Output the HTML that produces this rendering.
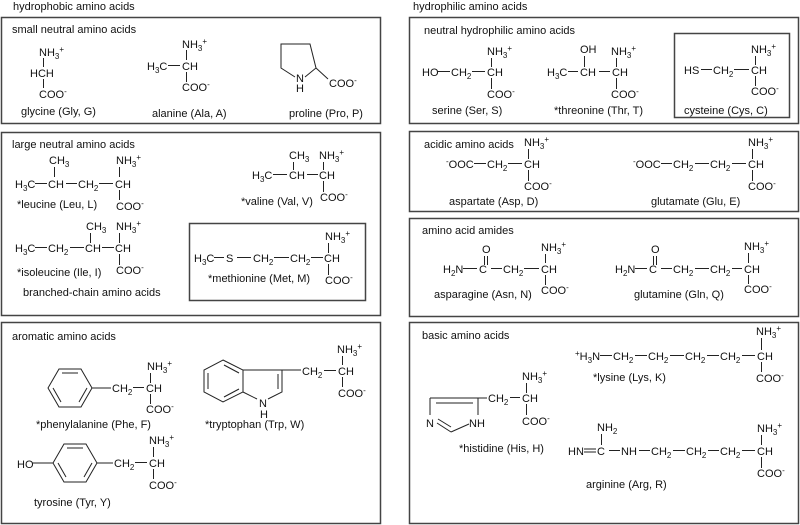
<!DOCTYPE html>
<html><head><meta charset="utf-8"><style>
html,body{margin:0;padding:0;background:#fff}
svg{display:block}
text{font-family:"Liberation Sans",Arial,sans-serif;font-size:11px;fill:#111}
.s{font-size:8px}
line,polyline,polygon{stroke:#222;stroke-width:1;fill:none}
rect{fill:none;stroke:#444;stroke-width:1.5}
</style></head><body>
<svg width="800" height="525" viewBox="0 0 800 525" xmlns="http://www.w3.org/2000/svg">
<text x="13" y="10">hydrophobic amino acids</text>
<text x="413" y="10">hydrophilic amino acids</text>

<rect x="1.5" y="17.5" width="379" height="106"/>
<rect x="1.5" y="132.5" width="379" height="183"/>
<rect x="189.5" y="223.5" width="176" height="77"/>
<rect x="1.5" y="322.5" width="379" height="201"/>
<rect x="409.5" y="17.5" width="389" height="106"/>
<rect x="674.5" y="33.5" width="115" height="84"/>
<rect x="409.5" y="131.5" width="389" height="80"/>
<rect x="409.5" y="218.5" width="389" height="98"/>
<rect x="409.5" y="322.5" width="389" height="201"/>

<text x="12" y="33">small neutral amino acids</text>
<text x="39" y="56">NH<tspan class="s" dy="3">3</tspan><tspan class="s" dy="-7">+</tspan></text>
<line x1="43.5" y1="58" x2="43.5" y2="67"/>
<text x="30" y="77">HCH</text>
<line x1="43.5" y1="79" x2="43.5" y2="88"/>
<text x="39" y="98">COO<tspan class="s" dy="-4">-</tspan></text>
<text x="21" y="115">glycine (Gly, G)</text>
<text x="182" y="48">NH<tspan class="s" dy="3">3</tspan><tspan class="s" dy="-7">+</tspan></text>
<line x1="186.5" y1="50" x2="186.5" y2="60"/>
<text x="147" y="70">H<tspan class="s" dy="3">3</tspan><tspan dy="-3">C</tspan></text>
<line x1="168" y1="65.5" x2="180" y2="65.5"/>
<text x="182" y="70">CH</text>
<line x1="186.5" y1="72" x2="186.5" y2="82"/>
<text x="182" y="91">COO<tspan class="s" dy="-4">-</tspan></text>
<text x="152" y="117">alanine (Ala, A)</text>
<polyline points="295,77 281,68 281,44 310,44 316,68 305,77"/>
<line x1="316" y1="68" x2="328" y2="79"/>
<text x="296" y="82">N</text>
<text x="296" y="92">H</text>
<text x="329" y="87">COO<tspan class="s" dy="-4">-</tspan></text>
<text x="289" y="117">proline (Pro, P)</text>

<text x="12" y="148">large neutral amino acids</text>
<text x="49" y="164">CH<tspan class="s" dy="3">3</tspan></text>
<text x="116" y="164">NH<tspan class="s" dy="3">3</tspan><tspan class="s" dy="-7">+</tspan></text>
<line x1="54.5" y1="167" x2="54.5" y2="177"/>
<line x1="119.5" y1="167" x2="119.5" y2="177"/>
<text x="15" y="188">H<tspan class="s" dy="3">3</tspan><tspan dy="-3">C</tspan></text>
<line x1="35" y1="183.5" x2="47" y2="183.5"/>
<text x="48" y="188">CH</text>
<line x1="66" y1="183.5" x2="77" y2="183.5"/>
<text x="78" y="188">CH<tspan class="s" dy="3">2</tspan></text>
<line x1="99" y1="183.5" x2="113" y2="183.5"/>
<text x="115" y="188">CH</text>
<line x1="119.5" y1="190" x2="119.5" y2="200"/>
<text x="116" y="210">COO<tspan class="s" dy="-4">-</tspan></text>
<text x="17" y="208">*leucine (Leu, L)</text>
<text x="86" y="230">CH<tspan class="s" dy="3">3</tspan></text>
<text x="116" y="230">NH<tspan class="s" dy="3">3</tspan><tspan class="s" dy="-7">+</tspan></text>
<line x1="90.5" y1="233" x2="90.5" y2="243"/>
<line x1="119.5" y1="233" x2="119.5" y2="243"/>
<text x="15" y="252">H<tspan class="s" dy="3">3</tspan><tspan dy="-3">C</tspan></text>
<line x1="35" y1="247.5" x2="47" y2="247.5"/>
<text x="48" y="252">CH<tspan class="s" dy="3">2</tspan></text>
<line x1="70" y1="247.5" x2="84" y2="247.5"/>
<text x="85" y="252">CH</text>
<line x1="102" y1="247.5" x2="114" y2="247.5"/>
<text x="115" y="252">CH</text>
<line x1="119.5" y1="254" x2="119.5" y2="265"/>
<text x="116" y="274">COO<tspan class="s" dy="-4">-</tspan></text>
<text x="17" y="276">*isoleucine (Ile, I)</text>
<text x="23" y="296">branched-chain amino acids</text>
<text x="289" y="159">CH<tspan class="s" dy="3">3</tspan></text>
<text x="319" y="159">NH<tspan class="s" dy="3">3</tspan><tspan class="s" dy="-7">+</tspan></text>
<line x1="293.5" y1="162" x2="293.5" y2="170"/>
<line x1="323.5" y1="162" x2="323.5" y2="170"/>
<text x="252" y="179">H<tspan class="s" dy="3">3</tspan><tspan dy="-3">C</tspan></text>
<line x1="273" y1="174.5" x2="287" y2="174.5"/>
<text x="289" y="179">CH</text>
<line x1="307" y1="174.5" x2="318" y2="174.5"/>
<text x="319" y="179">CH</text>
<line x1="323.5" y1="181" x2="323.5" y2="192"/>
<text x="320" y="201">COO<tspan class="s" dy="-4">-</tspan></text>
<text x="241" y="205">*valine (Val, V)</text>
<text x="325" y="240">NH<tspan class="s" dy="3">3</tspan><tspan class="s" dy="-7">+</tspan></text>
<line x1="328.5" y1="243" x2="328.5" y2="253"/>
<text x="194" y="262">H<tspan class="s" dy="3">3</tspan><tspan dy="-3">C</tspan></text>
<line x1="214" y1="257.5" x2="224" y2="257.5"/>
<text x="226" y="262">S</text>
<line x1="237" y1="257.5" x2="251" y2="257.5"/>
<text x="253" y="262">CH<tspan class="s" dy="3">2</tspan></text>
<line x1="274" y1="257.5" x2="289" y2="257.5"/>
<text x="290" y="262">CH<tspan class="s" dy="3">2</tspan></text>
<line x1="311" y1="257.5" x2="323" y2="257.5"/>
<text x="324" y="262">CH</text>
<line x1="328.5" y1="264" x2="328.5" y2="275"/>
<text x="325" y="284">COO<tspan class="s" dy="-4">-</tspan></text>
<text x="208" y="282">*methionine (Met, M)</text>

<text x="12" y="340">aromatic amino acids</text>
<polygon points="92,388 81,369 59,369 48,388 59,407 81,407"/>
<line x1="62" y1="373" x2="78" y2="373"/>
<line x1="87" y1="388" x2="79" y2="402"/>
<line x1="53" y1="388" x2="61" y2="402"/>
<line x1="92" y1="388" x2="111" y2="388"/>
<text x="112" y="392">CH<tspan class="s" dy="3">2</tspan></text>
<line x1="133" y1="387.5" x2="144" y2="387.5"/>
<text x="146" y="392">CH</text>
<text x="147" y="370">NH<tspan class="s" dy="3">3</tspan><tspan class="s" dy="-7">+</tspan></text>
<line x1="150.5" y1="373" x2="150.5" y2="383"/>
<line x1="150.5" y1="394" x2="150.5" y2="404"/>
<text x="146" y="413">COO<tspan class="s" dy="-4">-</tspan></text>
<text x="36" y="428">*phenylalanine (Phe, F)</text>
<polygon points="97,463 86,444 64,444 53,463 64,482 86,482"/>
<line x1="67" y1="448" x2="83" y2="448"/>
<line x1="92" y1="463" x2="84" y2="477"/>
<line x1="58" y1="463" x2="66" y2="477"/>
<text x="17" y="468">HO</text>
<line x1="32" y1="463" x2="53" y2="463"/>
<line x1="97" y1="463" x2="113" y2="463"/>
<text x="114" y="467">CH<tspan class="s" dy="3">2</tspan></text>
<line x1="135" y1="462.5" x2="147" y2="462.5"/>
<text x="149" y="467">CH</text>
<text x="149" y="444">NH<tspan class="s" dy="3">3</tspan><tspan class="s" dy="-7">+</tspan></text>
<line x1="153.5" y1="447" x2="153.5" y2="457"/>
<line x1="153.5" y1="469" x2="153.5" y2="479"/>
<text x="149" y="489">COO<tspan class="s" dy="-4">-</tspan></text>
<text x="34" y="506">tyrosine (Tyr, Y)</text>
<polygon points="223,360 243,370 243,392 223,402 204,392 204,370"/>
<line x1="208" y1="373" x2="208" y2="389"/>
<line x1="224" y1="365" x2="239" y2="373"/>
<line x1="224" y1="397" x2="239" y2="389"/>
<polyline points="243,370 282,370 282,392 268,399"/>
<line x1="257" y1="399" x2="243" y2="392"/>
<line x1="278" y1="374" x2="278" y2="389"/>
<line x1="282" y1="370" x2="301" y2="370"/>
<text x="259" y="407">N</text>
<text x="260" y="418">H</text>
<text x="302" y="375">CH<tspan class="s" dy="3">2</tspan></text>
<line x1="324" y1="370.5" x2="336" y2="370.5"/>
<text x="338" y="375">CH</text>
<text x="337" y="353">NH<tspan class="s" dy="3">3</tspan><tspan class="s" dy="-7">+</tspan></text>
<line x1="342.5" y1="356" x2="342.5" y2="365"/>
<line x1="342.5" y1="377" x2="342.5" y2="387"/>
<text x="338" y="397">COO<tspan class="s" dy="-4">-</tspan></text>
<text x="205" y="428">*tryptophan (Trp, W)</text>

<text x="424" y="34">neutral hydrophilic amino acids</text>
<text x="487" y="55">NH<tspan class="s" dy="3">3</tspan><tspan class="s" dy="-7">+</tspan></text>
<line x1="491.5" y1="58" x2="491.5" y2="67"/>
<text x="422" y="76">HO</text>
<line x1="438" y1="71.5" x2="450" y2="71.5"/>
<text x="451" y="76">CH<tspan class="s" dy="3">2</tspan></text>
<line x1="472" y1="71.5" x2="485" y2="71.5"/>
<text x="487" y="76">CH</text>
<line x1="491.5" y1="78" x2="491.5" y2="89"/>
<text x="487" y="98">COO<tspan class="s" dy="-4">-</tspan></text>
<text x="432" y="114">serine (Ser, S)</text>
<text x="580" y="53">OH</text>
<text x="611" y="55">NH<tspan class="s" dy="3">3</tspan><tspan class="s" dy="-7">+</tspan></text>
<line x1="584.5" y1="56" x2="584.5" y2="67"/>
<line x1="616.5" y1="58" x2="616.5" y2="67"/>
<text x="547" y="76">H<tspan class="s" dy="3">3</tspan><tspan dy="-3">C</tspan></text>
<line x1="568" y1="71.5" x2="578" y2="71.5"/>
<text x="580" y="76">CH</text>
<line x1="599" y1="71.5" x2="610" y2="71.5"/>
<text x="612" y="76">CH</text>
<line x1="616.5" y1="78" x2="616.5" y2="89"/>
<text x="611" y="98">COO<tspan class="s" dy="-4">-</tspan></text>
<text x="554" y="114">*threonine (Thr, T)</text>
<text x="751" y="53">NH<tspan class="s" dy="3">3</tspan><tspan class="s" dy="-7">+</tspan></text>
<line x1="755.5" y1="56" x2="755.5" y2="65"/>
<text x="684" y="74">HS</text>
<line x1="701" y1="69.5" x2="712" y2="69.5"/>
<text x="713" y="74">CH<tspan class="s" dy="3">2</tspan></text>
<line x1="734" y1="69.5" x2="749" y2="69.5"/>
<text x="751" y="74">CH</text>
<line x1="755.5" y1="76" x2="755.5" y2="86"/>
<text x="751" y="95">COO<tspan class="s" dy="-4">-</tspan></text>
<text x="684" y="114">cysteine (Cys, C)</text>

<text x="424" y="148">acidic amino acids</text>
<text x="524" y="146">NH<tspan class="s" dy="3">3</tspan><tspan class="s" dy="-7">+</tspan></text>
<line x1="528.5" y1="149" x2="528.5" y2="159"/>
<text x="446" y="168"><tspan class="s" dy="-4">-</tspan><tspan dy="4">OOC</tspan></text>
<line x1="474" y1="163.5" x2="486" y2="163.5"/>
<text x="487" y="168">CH<tspan class="s" dy="3">2</tspan></text>
<line x1="508" y1="163.5" x2="522" y2="163.5"/>
<text x="524" y="168">CH</text>
<line x1="528.5" y1="170" x2="528.5" y2="181"/>
<text x="524" y="190">COO<tspan class="s" dy="-4">-</tspan></text>
<text x="449" y="205">aspartate (Asp, D)</text>
<text x="748" y="146">NH<tspan class="s" dy="3">3</tspan><tspan class="s" dy="-7">+</tspan></text>
<line x1="752.5" y1="149" x2="752.5" y2="159"/>
<text x="633" y="168"><tspan class="s" dy="-4">-</tspan><tspan dy="4">OOC</tspan></text>
<line x1="661" y1="163.5" x2="672" y2="163.5"/>
<text x="673" y="168">CH<tspan class="s" dy="3">2</tspan></text>
<line x1="695" y1="163.5" x2="709" y2="163.5"/>
<text x="710" y="168">CH<tspan class="s" dy="3">2</tspan></text>
<line x1="732" y1="163.5" x2="746" y2="163.5"/>
<text x="748" y="168">CH</text>
<line x1="752.5" y1="170" x2="752.5" y2="181"/>
<text x="748" y="190">COO<tspan class="s" dy="-4">-</tspan></text>
<text x="651" y="205">glutamate (Glu, E)</text>

<text x="422" y="234">amino acid amides</text>
<text x="482" y="253">O</text>
<line x1="484.5" y1="256" x2="484.5" y2="265"/>
<line x1="487.5" y1="256" x2="487.5" y2="265"/>
<text x="443" y="273">H<tspan class="s" dy="3">2</tspan><tspan dy="-3">N</tspan></text>
<line x1="463" y1="268.5" x2="477" y2="268.5"/>
<text x="479" y="273">C</text>
<line x1="491" y1="268.5" x2="502" y2="268.5"/>
<text x="503" y="273">CH<tspan class="s" dy="3">2</tspan></text>
<line x1="524" y1="268.5" x2="539" y2="268.5"/>
<text x="541" y="273">CH</text>
<text x="541" y="251">NH<tspan class="s" dy="3">3</tspan><tspan class="s" dy="-7">+</tspan></text>
<line x1="545.5" y1="254" x2="545.5" y2="263"/>
<line x1="545.5" y1="275" x2="545.5" y2="285"/>
<text x="541" y="294">COO<tspan class="s" dy="-4">-</tspan></text>
<text x="434" y="298">asparagine (Asn, N)</text>
<text x="651" y="253">O</text>
<line x1="653.5" y1="256" x2="653.5" y2="265"/>
<line x1="656.5" y1="256" x2="656.5" y2="265"/>
<text x="615" y="273">H<tspan class="s" dy="3">2</tspan><tspan dy="-3">N</tspan></text>
<line x1="635" y1="268.5" x2="647" y2="268.5"/>
<text x="649" y="273">C</text>
<line x1="661" y1="268.5" x2="672" y2="268.5"/>
<text x="673" y="273">CH<tspan class="s" dy="3">2</tspan></text>
<line x1="695" y1="268.5" x2="709" y2="268.5"/>
<text x="710" y="273">CH<tspan class="s" dy="3">2</tspan></text>
<line x1="732" y1="268.5" x2="742" y2="268.5"/>
<text x="744" y="273">CH</text>
<text x="744" y="250">NH<tspan class="s" dy="3">3</tspan><tspan class="s" dy="-7">+</tspan></text>
<line x1="748.5" y1="253" x2="748.5" y2="263"/>
<line x1="748.5" y1="275" x2="748.5" y2="284"/>
<text x="744" y="293">COO<tspan class="s" dy="-4">-</tspan></text>
<text x="634" y="298">glutamine (Gln, Q)</text>

<text x="422" y="339">basic amino acids</text>
<text x="756" y="335">NH<tspan class="s" dy="3">3</tspan><tspan class="s" dy="-7">+</tspan></text>
<line x1="761.5" y1="338" x2="761.5" y2="350"/>
<text x="575" y="360"><tspan class="s" dy="-4">+</tspan><tspan dy="4">H</tspan><tspan class="s" dy="3">3</tspan><tspan dy="-3">N</tspan></text>
<line x1="600" y1="355.5" x2="612" y2="355.5"/>
<text x="613" y="360">CH<tspan class="s" dy="3">2</tspan></text>
<line x1="635" y1="355.5" x2="647" y2="355.5"/>
<text x="648" y="360">CH<tspan class="s" dy="3">2</tspan></text>
<line x1="670" y1="355.5" x2="684" y2="355.5"/>
<text x="685" y="360">CH<tspan class="s" dy="3">2</tspan></text>
<line x1="707" y1="355.5" x2="719" y2="355.5"/>
<text x="720" y="360">CH<tspan class="s" dy="3">2</tspan></text>
<line x1="742" y1="355.5" x2="755" y2="355.5"/>
<text x="757" y="360">CH</text>
<line x1="761.5" y1="362" x2="761.5" y2="372"/>
<text x="756" y="382">COO<tspan class="s" dy="-4">-</tspan></text>
<text x="593" y="381">*lysine (Lys, K)</text>
<line x1="430" y1="398" x2="478" y2="398"/>
<line x1="436" y1="403" x2="473" y2="403"/>
<line x1="430" y1="398" x2="430" y2="415"/>
<line x1="478" y1="398" x2="478" y2="415"/>
<line x1="437" y1="423" x2="451" y2="432"/>
<line x1="438" y1="419" x2="451" y2="427"/>
<line x1="451" y1="432" x2="469" y2="424"/>
<line x1="478" y1="398" x2="487" y2="398"/>
<text x="426" y="427">N</text>
<text x="469" y="427">NH</text>
<text x="488" y="402">CH<tspan class="s" dy="3">2</tspan></text>
<line x1="510" y1="397.5" x2="520" y2="397.5"/>
<text x="522" y="402">CH</text>
<text x="522" y="380">NH<tspan class="s" dy="3">3</tspan><tspan class="s" dy="-7">+</tspan></text>
<line x1="526.5" y1="383" x2="526.5" y2="393"/>
<line x1="526.5" y1="404" x2="526.5" y2="415"/>
<text x="522" y="425">COO<tspan class="s" dy="-4">-</tspan></text>
<text x="459" y="452">*histidine (His, H)</text>
<text x="597" y="431">NH<tspan class="s" dy="3">2</tspan></text>
<line x1="601.5" y1="434" x2="601.5" y2="445"/>
<text x="568" y="455">HN</text>
<line x1="584" y1="449" x2="596" y2="449"/>
<line x1="584" y1="452" x2="596" y2="452"/>
<text x="597" y="455">C</text>
<line x1="609" y1="450.5" x2="620" y2="450.5"/>
<text x="621" y="455">NH</text>
<line x1="639" y1="450.5" x2="650" y2="450.5"/>
<text x="651" y="455">CH<tspan class="s" dy="3">2</tspan></text>
<line x1="673" y1="450.5" x2="685" y2="450.5"/>
<text x="686" y="455">CH<tspan class="s" dy="3">2</tspan></text>
<line x1="708" y1="450.5" x2="719" y2="450.5"/>
<text x="720" y="455">CH<tspan class="s" dy="3">2</tspan></text>
<line x1="742" y1="450.5" x2="755" y2="450.5"/>
<text x="757" y="455">CH</text>
<text x="757" y="432">NH<tspan class="s" dy="3">3</tspan><tspan class="s" dy="-7">+</tspan></text>
<line x1="761.5" y1="435" x2="761.5" y2="445"/>
<line x1="761.5" y1="457" x2="761.5" y2="468"/>
<text x="757" y="477">COO<tspan class="s" dy="-4">-</tspan></text>
<text x="586" y="488">arginine (Arg, R)</text>
</svg>
</body></html>
